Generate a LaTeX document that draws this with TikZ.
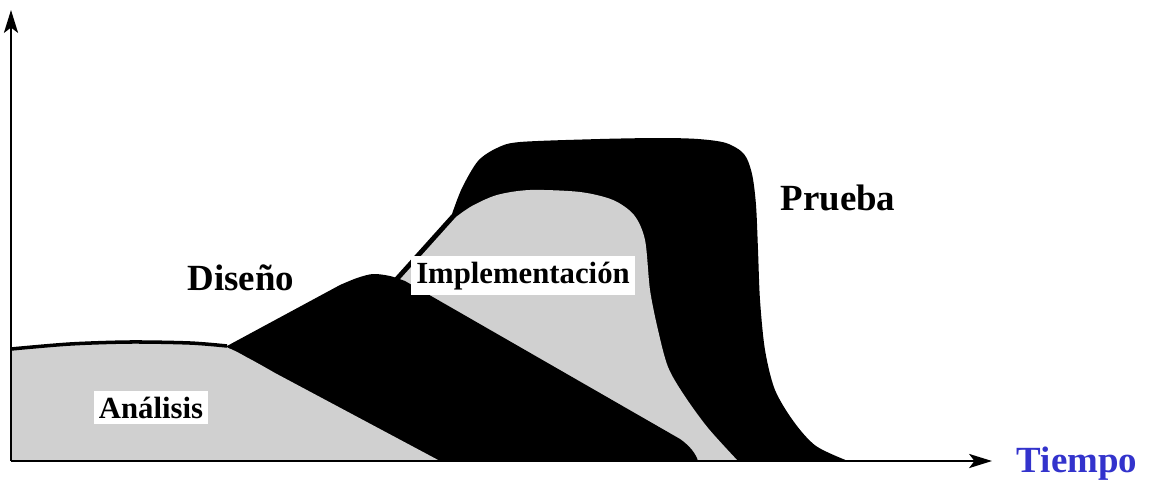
\documentclass[tikz,border=0pt]{standalone}
\usepackage{fontspec}
\setmainfont{Liberation Serif}
\usetikzlibrary{arrows.meta}
\definecolor{lightphase}{RGB}{208,208,208}
\definecolor{tiempoblue}{RGB}{51,51,204}

\begin{document}
\begin{tikzpicture}[x=0.02cm, y=-0.02cm,
  big/.style={font=\fontsize{21}{25}\selectfont\bfseries, anchor=base},
  small/.style={font=\fontsize{17.5}{21}\selectfont\bfseries, anchor=base, fill=white, inner sep=3pt},
  axis/.style={line width=1.3pt, -{Stealth[length=13pt, width=8pt, inset=3pt]}}]
  \useasboundingbox (0,0) rectangle (1149,480);

  \coordinate (O) at (11,461);
  \coordinate (Ytop) at (11,10);
  \coordinate (Xend) at (992,461);

  % Prueba (back)
  \fill[black] (390,283) -- (452,214) -- plot[smooth] coordinates {(452,214) (462,188) (478,161) (497,148) (520,142) (600,139) (660,138) (698,139) (726,143) (744,154) (752,174) (756,205) (758,250) (760,300) (765,350) (775,390) (794,422) (816,446) (848,461)} -- (500,461) -- cycle;

  % Implementacion
  \fill[lightphase] (394,286) -- (456,217) -- plot[smooth] coordinates {(456,217) (472,206) (497,195) (530,190) (580,192) (613,200) (634,215) (645,240) (650,290) (658,330) (668,367) (684,395) (708,428) (738,461)} -- (520,461) -- cycle;

  % Diseno
  \fill[black] (227,346) -- (340,285) -- plot[smooth] coordinates {(340,285) (357,278) (373,274) (390,276) (405,281)} -- (680,439) .. controls (690,446) and (696,454) .. (698,461) -- (260,461) -- cycle;

  % Analisis (front)
  \fill[lightphase] plot[smooth] coordinates {(11,349) (70,344) (130,342) (190,343) (225,347) (250,359) (275,373)} -- (440,461) -- (11,461) -- cycle;
  \draw[line width=2pt] plot[smooth] coordinates {(11,349) (70,344) (130,342) (190,343) (227,346)};

  \node[small] (analisis) at (151,418) {Análisis};
  \node[big] (diseno) at (241,290) {Diseño};
  \node[small] (impl) at (523,283) {Implementación};
  \node[big] (prueba) at (838,210) {Prueba};
  \node[big, text=tiempoblue] (tiempo) at (1077,472) {Tiempo};

  \draw[axis] (O) -- (Ytop);
  \draw[axis] (O) -- (Xend);
\end{tikzpicture}
\end{document}
